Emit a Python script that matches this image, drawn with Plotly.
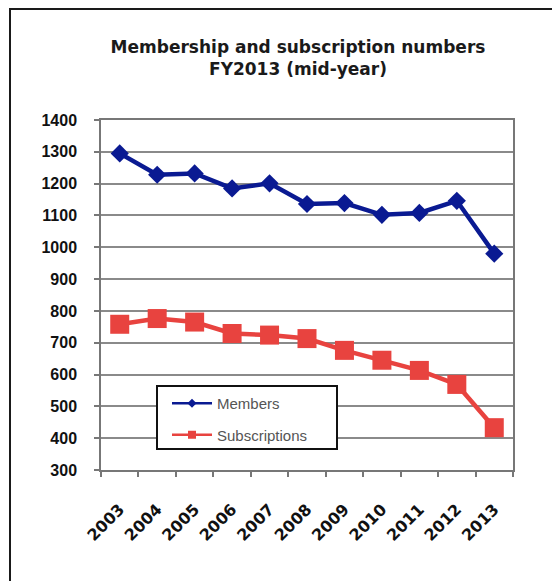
import plotly.graph_objects as go

years = ["2003", "2004", "2005", "2006", "2007", "2008", "2009", "2010", "2011", "2012", "2013"]
members = [1295, 1228, 1232, 1185, 1201, 1136, 1139, 1102, 1108, 1146, 980]
subscriptions = [758, 776, 765, 729, 724, 713, 676, 645, 613, 569, 433]
y_ticks = [300, 400, 500, 600, 700, 800, 900, 1000, 1100, 1200, 1300, 1400]

BLUE = "#0a1a92"
RED = "#e8433f"

W, H = 560, 581
OFF = 8  # page offset of the figure in the screenshot
L, R, T, B = 93, 55, 112, 119
pw, ph = W - L - R, H - T - B


def px_x(px):
    return (px - OFF - L) / pw


def px_y(py):
    return (H - B - (py - OFF)) / ph


fig = go.Figure()
fig.add_trace(go.Scatter(x=years, y=members, mode="lines+markers", name="Members",
                         line=dict(color=BLUE, width=4.5),
                         marker=dict(symbol="diamond", size=14, color=BLUE),
                         showlegend=False))
fig.add_trace(go.Scatter(x=years, y=subscriptions, mode="lines+markers", name="Subscriptions",
                         line=dict(color=RED, width=4.5),
                         marker=dict(symbol="square", size=19, color=RED),
                         showlegend=False))
# legend entries (smaller symbols as in the reference legend)
fig.add_trace(go.Scatter(x=[None], y=[None], mode="lines+markers", name="Members",
                         line=dict(color=BLUE, width=2.5),
                         marker=dict(symbol="diamond", size=7, color=BLUE),
                         legendgroup="a"))
fig.add_trace(go.Scatter(x=[None], y=[None], mode="lines+markers", name="Subscriptions",
                         line=dict(color=RED, width=2.5),
                         marker=dict(symbol="square", size=8, color=RED),
                         legendgroup="b"))

shapes = [
    # outer frame
    dict(type="rect", xref="paper", yref="paper",
         x0=px_x(10), x1=px_x(600), y0=px_y(620), y1=px_y(9),
         line=dict(color="#1a1a1a", width=2), fillcolor="rgba(0,0,0,0)", layer="below"),
    # legend box
    dict(type="rect", xref="paper", yref="paper",
         x0=px_x(157), x1=px_x(337), y0=px_y(449), y1=px_y(386),
         line=dict(color="#111111", width=2), fillcolor="white", layer="above"),
]

fig.update_layout(
    width=W, height=H,
    margin=dict(l=L, r=R, t=T, b=B, autoexpand=False),
    paper_bgcolor="white", plot_bgcolor="white",
    title=dict(text="Membership and subscription numbers<br>FY2013 (mid-year)",
               font=dict(family="DejaVu Sans", size=17, color="#1a1a1a", weight="bold"),
               x=(298 - OFF) / W, xanchor="center", y=1 - 45 / H, yanchor="top", yref="container"),
    shapes=shapes,
    showlegend=True,
    legend=dict(x=px_x(167), xanchor="left", y=px_y(387), yanchor="top",
                bgcolor="rgba(0,0,0,0)", borderwidth=0, itemwidth=40,
                font=dict(family="Liberation Sans", size=15, color="#555555"),
                tracegroupgap=9, traceorder="grouped"),
    xaxis=dict(type="category", range=[-0.5, 10.5], tickangle=-45,
               showgrid=False, showline=True, linecolor="#777777", linewidth=1.5,
               mirror=True, ticks="outside", ticklen=5, tickcolor="#777777", tickwidth=1.5,
               tickson="boundaries", ticklabelstandoff=22,
               tickfont=dict(family="DejaVu Sans", size=16, color="#111111", weight="bold")),
    yaxis=dict(range=[300, 1400], tickvals=y_ticks,
               showgrid=True, gridcolor="#8a8a8a", gridwidth=1.5,
               showline=True, linecolor="#777777", linewidth=1.5, mirror=True,
               ticks="outside", ticklen=5, tickcolor="#777777", tickwidth=1.5,
               ticklabelstandoff=14, zeroline=False,
               tickfont=dict(family="Liberation Sans", size=16, color="#111111", weight="bold")),
)

fig.write_html("out.html")
